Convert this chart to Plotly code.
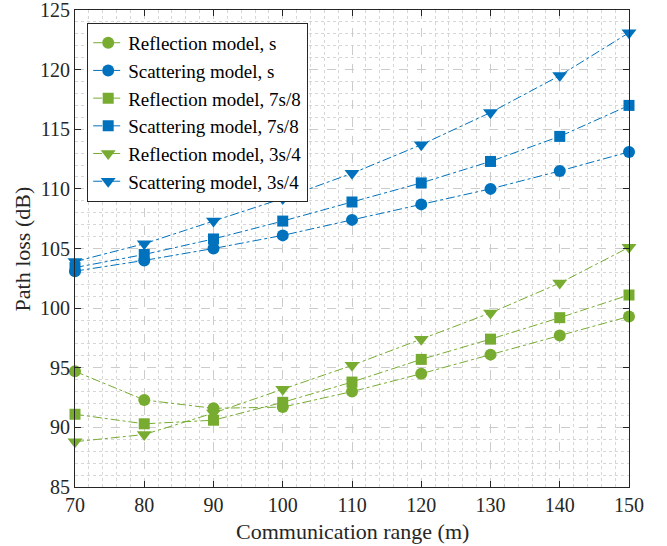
import plotly.graph_objects as go

ranges = [70, 80, 90, 100, 110, 120, 130, 140, 150]
refl_s = [94.7, 92.3, 91.6, 91.7, 93.0, 94.5, 96.1, 97.7, 99.3]
scat_s = [103.1, 104.0, 105.0, 106.1, 107.4, 108.7, 110.0, 111.5, 113.1]
refl_78 = [91.1, 90.3, 90.6, 92.1, 93.8, 95.7, 97.4, 99.2, 101.1]
scat_78 = [103.4, 104.5, 105.8, 107.3, 108.9, 110.5, 112.3, 114.4, 117.0]
refl_34 = [88.8, 89.4, 91.2, 93.2, 95.2, 97.4, 99.6, 102.1, 105.1]
scat_34 = [103.9, 105.4, 107.3, 109.2, 111.3, 113.7, 116.4, 119.5, 123.1]

names = ["Reflection model, s", "Scattering model, s",
         "Reflection model, 7s/8", "Scattering model, 7s/8",
         "Reflection model, 3s/4", "Scattering model, 3s/4"]
series = [refl_s, scat_s, refl_78, scat_78, refl_34, scat_34]
GREEN = "#77AC30"
BLUE = "#0072BD"
colors = [GREEN, BLUE, GREEN, BLUE, GREEN, BLUE]
symbols = ["circle", "circle", "square", "square", "triangle-down", "triangle-down"]
sizes = [12, 12, 11, 11, 13, 13]

fig = go.Figure()
for n, ys, c, s, sz in zip(names, series, colors, symbols, sizes):
    fig.add_trace(go.Scatter(
        x=ranges, y=ys, name=n, mode="lines+markers",
        line=dict(color=c, width=1, dash="dashdot"),
        marker=dict(symbol=s, size=sz, color=c, line=dict(width=0)),
        cliponaxis=False,
    ))

FAM = "Times New Roman"
tickfont = dict(family=FAM, size=20, color="#262626")
titlefont = dict(family=FAM, size=22, color="#262626")
axis_common = dict(
    showline=True, linecolor="#262626", linewidth=1, mirror="ticks",
    ticks="inside", ticklen=6, tickcolor="#262626",
    showgrid=True, gridcolor="#cccccc", griddash="dash", gridwidth=1,
    zeroline=False, tickfont=tickfont, automargin=False,
    ticklabeloverflow="allow",
)
fig.update_layout(
    width=667, height=546,
    margin=dict(l=75, r=38, t=10, b=59),
    paper_bgcolor="white", plot_bgcolor="white",
    font=tickfont,
    xaxis=dict(range=[70, 150], dtick=10, tick0=70,
               minor=dict(dtick=2, showgrid=True, griddash="dot", gridcolor="#d6d6d6", gridwidth=1),
               **axis_common),
    yaxis=dict(range=[85, 125], dtick=5, tick0=85,
               minor=dict(dtick=1, showgrid=True, griddash="dot", gridcolor="#d6d6d6", gridwidth=1),
               **axis_common),
    legend=dict(x=0.022, y=0.973, xanchor="left", yanchor="top",
                bgcolor="white", bordercolor="#262626", borderwidth=1,
                font=dict(family=FAM, size=19, color="black"),
                tracegroupgap=0),
    showlegend=True,
    annotations=[
        dict(text="Communication range (m)", xref="paper", yref="paper",
             x=0.5, y=-0.093, xanchor="center", yanchor="middle",
             showarrow=False, font=titlefont),
        dict(text="Path loss (dB)", xref="paper", yref="paper",
             x=-0.094, y=0.5, xanchor="center", yanchor="middle",
             textangle=-90, showarrow=False, font=titlefont),
    ],
)

fig.write_html("out.html",
               config={"displayModeBar": False},
               post_script="document.body.style.margin='0';document.body.style.overflow='hidden';")
